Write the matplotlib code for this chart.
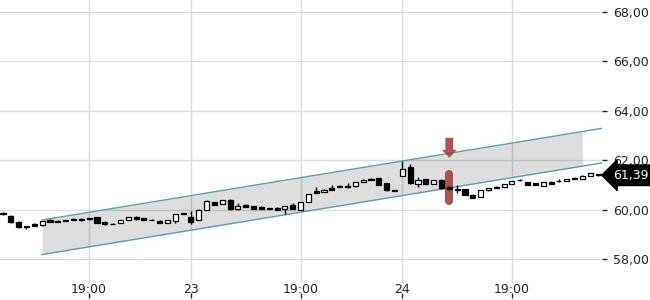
import matplotlib
matplotlib.use("Agg")
import matplotlib.pyplot as plt
from matplotlib.ticker import FuncFormatter
from matplotlib.patches import FancyArrow
import numpy as np

opens = [59.85, 59.76, 59.49, 59.33, 59.42, 59.36, 59.57, 59.55, 59.58, 59.61,
         59.62, 59.66, 59.69, 59.49, 59.43, 59.45, 59.58, 59.70, 59.66, 59.59,
         59.53, 59.47, 59.55, 59.86, 59.69, 59.58, 60.00, 60.31, 60.23, 60.40,
         60.03, 60.17, 60.13, 60.10, 60.05, 60.08, 60.01, 60.20, 60.00, 60.31,
         60.74, 60.73, 60.88, 60.94, 60.97, 60.94, 61.12, 61.25, 61.27, 61.08,
         60.79, 61.35, 61.71, 61.04, 61.24, 61.04, 61.21, 60.90, 60.82, 60.84,
         60.61, 60.50, 60.78, 60.90, 60.93, 61.04, 61.20, 61.10, 61.08, 60.97,
         61.12, 61.17, 61.16, 61.27, 61.24, 61.38, 61.45]
closes = [59.81, 59.49, 59.28, 59.30, 59.35, 59.54, 59.50, 59.49, 59.53, 59.59,
          59.56, 59.60, 59.45, 59.41, 59.41, 59.58, 59.68, 59.62, 59.58, 59.57,
          59.47, 59.57, 59.81, 59.84, 59.49, 60.00, 60.36, 60.20, 60.39, 60.01,
          60.16, 60.12, 60.03, 60.03, 60.04, 60.00, 60.15, 60.02, 60.31, 60.64,
          60.67, 60.81, 60.80, 60.92, 60.90, 61.10, 61.21, 61.19, 61.01, 60.80,
          60.77, 61.65, 61.06, 61.20, 61.04, 61.20, 60.86, 60.82, 60.80, 60.60,
          60.47, 60.80, 60.88, 60.88, 61.04, 61.15, 61.18, 61.01, 61.00, 61.12,
          61.04, 61.16, 61.24, 61.25, 61.38, 61.47, 61.39]
highs = [59.90, 59.78, 59.52, 59.34, 59.46, 59.55, 59.63, 59.59, 59.59, 59.66,
         59.65, 59.67, 59.70, 59.52, 59.46, 59.59, 59.69, 59.73, 59.67, 59.63,
         59.57, 59.58, 59.82, 59.87, 59.96, 60.01, 60.37, 60.32, 60.40, 60.41,
         60.25, 60.22, 60.14, 60.13, 60.07, 60.12, 60.16, 60.28, 60.32, 60.65,
         60.90, 60.82, 60.99, 60.99, 61.06, 61.11, 61.22, 61.28, 61.28, 61.09,
         60.80, 61.98, 61.85, 61.31, 61.25, 61.21, 61.22, 60.97, 61.00, 60.85,
         60.62, 60.81, 60.89, 60.96, 61.05, 61.16, 61.24, 61.11, 61.09, 61.13,
         61.15, 61.22, 61.25, 61.31, 61.39, 61.48, 61.46]
lows = [59.80, 59.47, 59.26, 59.22, 59.34, 59.35, 59.49, 59.48, 59.52, 59.56,
        59.55, 59.59, 59.44, 59.37, 59.40, 59.44, 59.57, 59.59, 59.57, 59.56,
        59.46, 59.46, 59.47, 59.83, 59.42, 59.57, 59.99, 60.19, 60.22, 60.00,
        59.97, 60.11, 60.02, 60.02, 60.02, 59.99, 59.83, 60.01, 59.99, 60.30,
        60.66, 60.72, 60.79, 60.91, 60.89, 60.93, 61.11, 61.18, 61.00, 60.76,
        60.76, 61.34, 61.05, 60.90, 61.03, 61.03, 60.85, 60.81, 60.69, 60.59,
        60.46, 60.49, 60.77, 60.87, 60.92, 61.03, 61.17, 61.00, 60.99, 60.96,
        61.03, 61.11, 61.15, 61.24, 61.23, 61.37, 61.38]

xtick_idx = [11, 24, 38, 51, 65]
xtick_labels = ["19:00", "23", "19:00", "24", "19:00"]
yticks = [58, 60, 62, 64, 66, 68]

# trend channel
channel_start = 5
channel_fill_end = 74
channel_upper_start = 59.58
channel_lower_start = 58.18
channel_slope = 0.0519

# signal marker
signal_idx = 57
arrow_top, arrow_tip = 62.91, 62.10
pill_top, pill_bottom = 61.62, 60.20

n = len(opens)
x = np.arange(n)
o = np.array(opens); c = np.array(closes); h = np.array(highs); l = np.array(lows)

fig = plt.figure(figsize=(6.5, 3.0), dpi=100)
ax = fig.add_axes([0, 17/300, 602/650, 283/300])
xmin, xmax = -0.383, 76.5
ax.set_xlim(xmin, xmax)
ax.set_ylim(57.028, 68.486)

for s in ax.spines.values():
    s.set_visible(False)

ax.grid(True, color="#dddddd", linewidth=1)
ax.set_axisbelow(True)

# channel
cx_fill = np.array([channel_start, channel_fill_end])
up_fill = channel_upper_start + channel_slope * (cx_fill - channel_start)
lo_fill = channel_lower_start + channel_slope * (cx_fill - channel_start)
ax.fill_between(cx_fill, lo_fill, up_fill, color="black", alpha=0.13, linewidth=0, zorder=1)
cx_line = np.array([channel_start, xmax])
ax.plot(cx_line, channel_upper_start + channel_slope * (cx_line - channel_start),
        color="#5f9ea3", lw=1, zorder=2)
ax.plot(cx_line, channel_lower_start + channel_slope * (cx_line - channel_start),
        color="#5f9ea3", lw=1, zorder=2)

# marker
ax.plot([signal_idx, signal_idx], [pill_bottom + 0.16, pill_top - 0.16], color="#9e3535",
        alpha=0.85, lw=5.8, solid_capstyle="round", zorder=3)
arr = FancyArrow(signal_idx, arrow_top, 0, -(arrow_top - arrow_tip), width=1.0,
                 head_width=1.9, head_length=0.32, length_includes_head=True,
                 color="#9e3535", alpha=0.85, linewidth=0, zorder=3)
ax.add_patch(arr)

# candles
ax.vlines(x, l, h, color="black", linewidth=1, zorder=4)
up = c >= o
bottoms = np.minimum(o, c)
heights = np.maximum(np.abs(c - o), 0.005)
ax.bar(x, heights, bottom=bottoms, width=0.65,
       color=np.where(up, "white", "black"), edgecolor="black", linewidth=0.9, zorder=5)

# axes ticks
ax.yaxis.tick_right()
ax.set_yticks(yticks)
ax.yaxis.set_major_formatter(FuncFormatter(lambda v, p: f"{v:.2f}".replace(".", ",")))
ax.tick_params(axis="y", direction="out", length=3.6, width=1, pad=4.5,
               labelsize=9, colors="#222222")
ax.set_xticks(xtick_idx)
ax.set_xticklabels(xtick_labels)
ax.tick_params(axis="x", length=0, pad=0, labelsize=9, colors="#222222")

sec = ax.secondary_xaxis(-15/283)
sec.set_xticks(xtick_idx)
sec.set_xticklabels([])
sec.tick_params(axis="x", direction="in", length=3.6, width=1, colors="#222222")
sec.spines["bottom"].set_visible(False)

# last price tag
last = closes[-1]
ax.annotate(f"{last:.2f}".replace(".", ","), xy=(1, last), xycoords=ax.get_yaxis_transform(),
            xytext=(8, 0), textcoords="offset points", va="center", ha="left",
            fontsize=9, color="white", annotation_clip=False,
            bbox=dict(boxstyle="larrow,pad=0.3", fc="black", ec="black"))

fig.savefig("out.png", dpi=100)
